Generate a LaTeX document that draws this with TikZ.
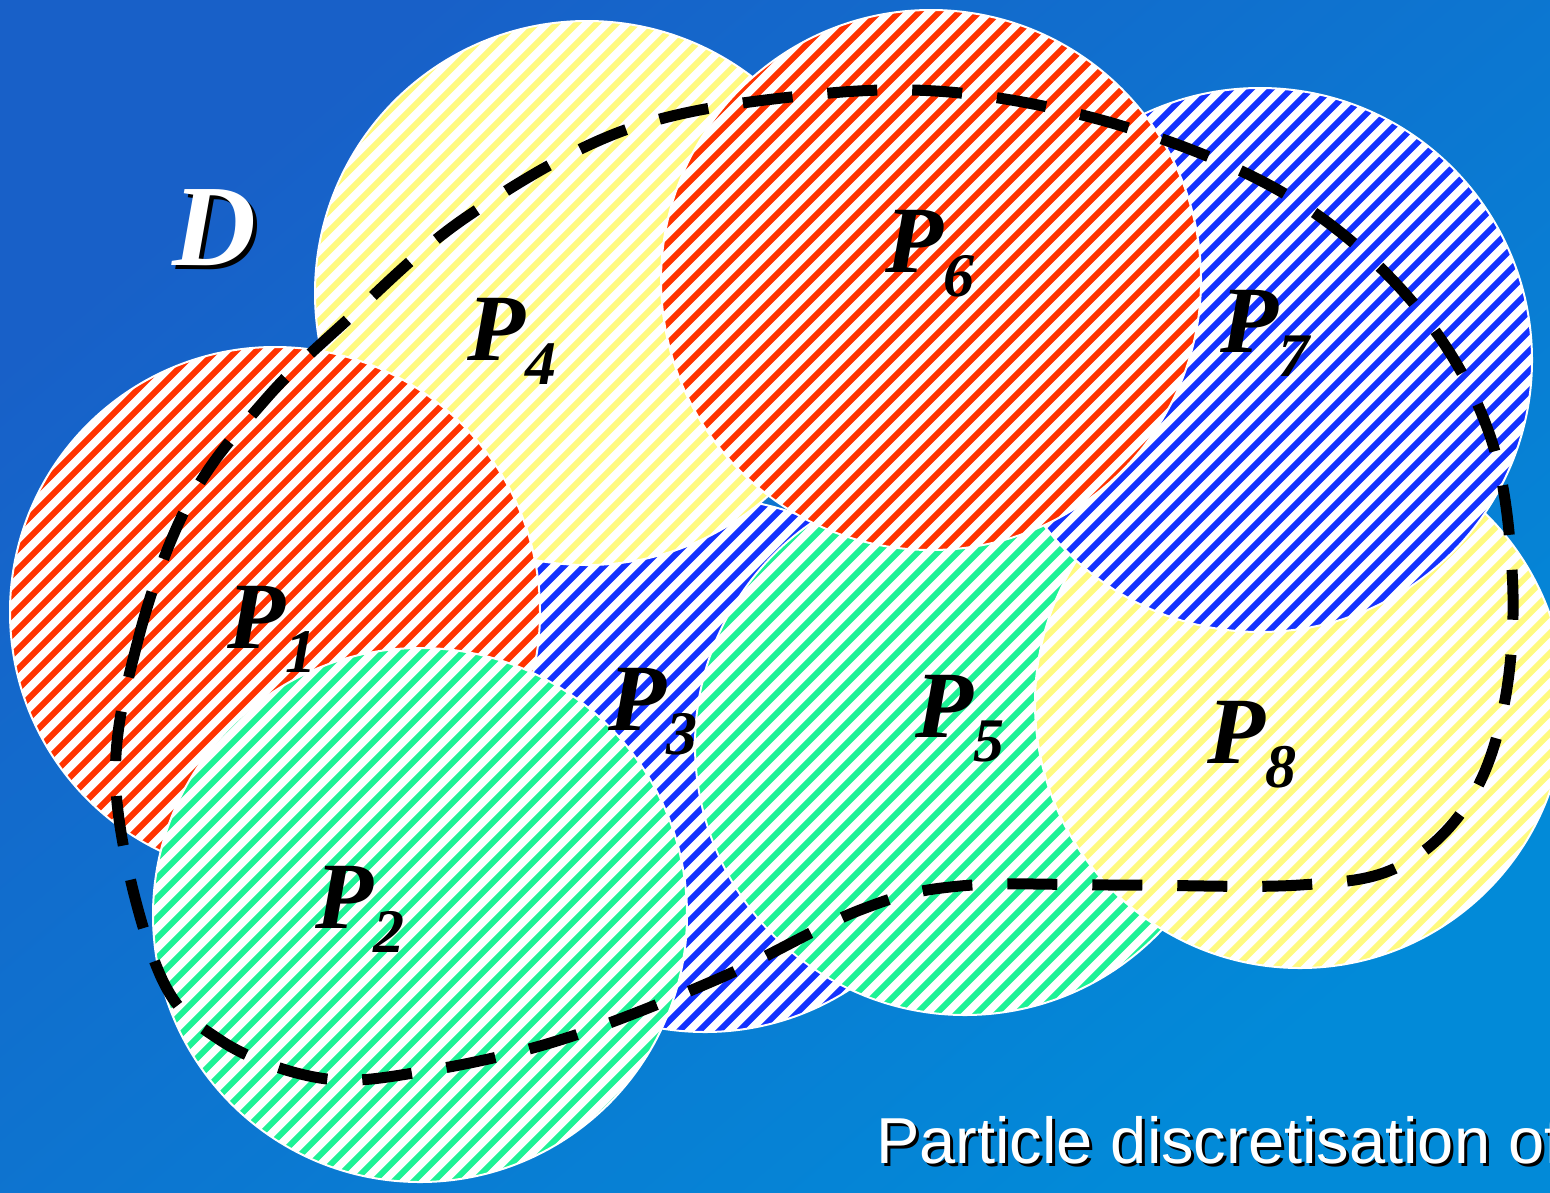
\documentclass[tikz,border=0pt]{standalone}
\usepackage{fontspec}
\setmainfont{Liberation Serif}
\newfontfamily\capfont{Liberation Sans}
\definecolor{hred}{RGB}{255,51,0}
\definecolor{hyellow}{RGB}{255,250,128}
\definecolor{hblue}{RGB}{20,50,255}
\definecolor{hgreen}{RGB}{30,242,150}
\definecolor{bgA}{RGB}{24,96,200}
\definecolor{bgB}{RGB}{2,138,216}
\newcommand{\psub}[1]{\raisebox{-24pt}{\fontsize{62}{62}\selectfont #1}}
\tikzset{
  hatch/.style={circle, draw=white, line width=2pt, fill=white, inner sep=0pt, outer sep=0pt,
    path picture={
      \foreach \k in {-30,...,30}{
        \draw[#1, line width=6pt]
          ([shift={(\k*20-450,450)}]path picture bounding box.center) --
          ([shift={(\k*20+450,-450)}]path picture bounding box.center);
      }
    }},
  plabel/.style={anchor=base west, inner sep=0pt, text=black,
    font=\fontsize{95}{95}\selectfont\bfseries\itshape},
  boundary/.style={black, line width=11pt, dash pattern=on 50pt off 35pt},
}
\begin{document}
\begin{tikzpicture}[x=1pt,y=-1pt]
\useasboundingbox (0,0) rectangle (1550,1192);
\begin{scope}
\clip (0,0) rectangle (1550,1192);
\shade[top color=bgA, bottom color=bgB, shading angle=40] (0,0) rectangle (1550,1192);
% particles, drawn back to front
\node[hatch=hblue,   minimum size=534pt] (P3) at (705,765) {};
\node[hatch=hyellow, minimum size=544pt] (P4) at (587,293) {};
\node[hatch=hred,    minimum size=530pt] (P1) at (275,612) {};
\node[hatch=hgreen,  minimum size=534pt] (P2) at (420,915) {};
\node[hatch=hgreen,  minimum size=540pt] (P5) at (965,745) {};
\node[hatch=hyellow, minimum size=530pt] (P8) at (1300,703) {};
\node[hatch=hblue,   minimum size=544pt] (P7) at (1260,360) {};
\node[hatch=hred,    minimum size=540pt] (P6) at (931,280) {};
% domain boundary
\draw[boundary] plot[smooth cycle, tension=0.6] coordinates {
  (116,790) (138,640) (190,500) (265,400) (345,322) (465,218) (625,130)
  (800,96) (960,93) (1135,130) (1295,200) (1415,305) (1488,430)
  (1512,570) (1505,700) (1470,800) (1400,866) (1300,885) (1120,885)
  (960,886) (860,910) (720,978) (560,1040) (420,1072) (320,1078)
  (220,1040) (158,970)};
% labels
\node[plabel] (L1) at (227,648) {P\psub{1}};
\node[plabel] (L2) at (315,928) {P\psub{2}};
\node[plabel] (L3) at (608,730) {P\psub{3}};
\node[plabel] (L4) at (467,360) {P\psub{4}};
\node[plabel] (L5) at (915,737) {P\psub{5}};
\node[plabel] (L6) at (885,272) {P\psub{6}};
\node[plabel] (L7) at (1220,352) {P\psub{7}};
\node[plabel] (L8) at (1207,763) {P\psub{8}};
% domain name
\node[anchor=base west, inner sep=0pt, text=black, font=\fontsize{116}{116}\selectfont\bfseries\itshape] (Dsh) at (176,269) {D};
\node[anchor=base west, inner sep=0pt, text=white, font=\fontsize{116}{116}\selectfont\bfseries\itshape] (D) at (172,265) {D};
% caption
\node[anchor=base west, inner sep=0pt, text=black, font=\capfont\fontsize{65}{65}\selectfont] (capsh) at (879,1166) {Particle discretisation of};
\node[anchor=base west, inner sep=0pt, text=white, font=\capfont\fontsize{65}{65}\selectfont] (cap) at (876,1163) {Particle discretisation of};
\end{scope}
\end{tikzpicture}
\end{document}
